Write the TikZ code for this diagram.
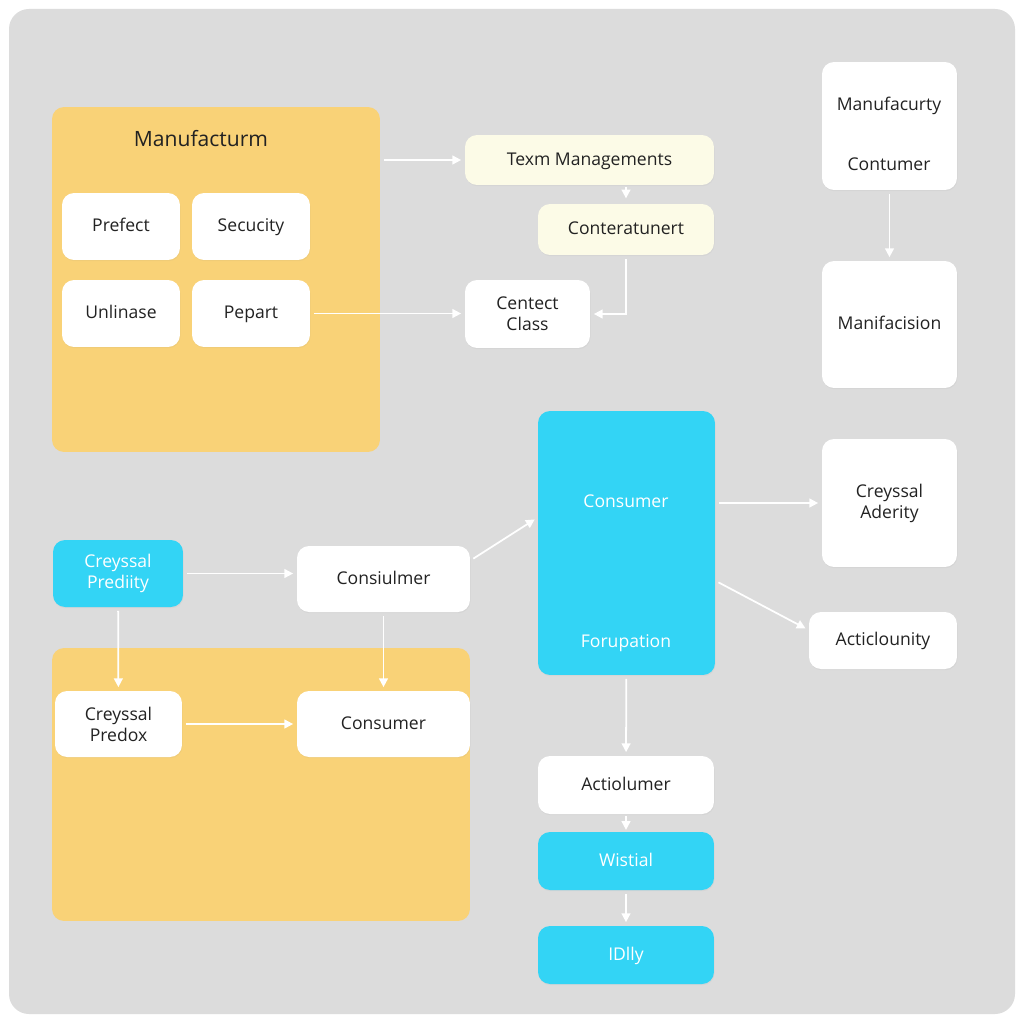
\documentclass[tikz,border=0pt]{standalone}
\usepackage{fontspec}
\setmainfont{Open Sans}
\usetikzlibrary{arrows.meta, shadows}
\definecolor{panelgrey}{HTML}{DCDCDC}
\definecolor{boxyellow}{HTML}{F9D277}
\definecolor{paleyellow}{HTML}{FCFBE7}
\definecolor{boxblue}{HTML}{33D4F5}
\definecolor{inkgrey}{HTML}{222222}
\tikzset{
  card/.style={fill=white, rounded corners=0.24cm, text=inkgrey, align=center,
    font=\fontsize{10}{12}\selectfont,
    drop shadow={opacity=0.07, shadow xshift=0.3pt, shadow yshift=-0.7pt}},
  palecard/.style={card, fill=paleyellow},
  bluecard/.style={card, fill=boxblue, text=white},
  oneline/.style={text height=1.6ex, text depth=0.45ex},
  tag/.style={oneline, font=\fontsize{10}{12}\selectfont},
  group/.style={fill=boxyellow, rounded corners=0.24cm},
  link/.style={draw=white, line width=1pt, -{Triangle[width=5pt,length=5pt]},
    shorten <=2pt, shorten >=2pt},
}

\begin{document}
\begin{tikzpicture}[x=0.02cm, y=-0.02cm]
      \useasboundingbox (0,0) rectangle (1024,1024);
      \fill[white] (0,0) rectangle (1024,1024);
      \fill[panelgrey, rounded corners=0.4cm] (9,9) rectangle (1015,1014);
      % yellow groups
      \node[group, minimum width=6.56cm, minimum height=6.9cm] (manu) at (216,279.5) {};
      \node[text=inkgrey, oneline, font=\fontsize{12}{14}\selectfont] (manutitle) at (201,141) {Manufacturm};
      \node[group, minimum width=8.36cm, minimum height=5.46cm] (lowgroup) at (261,784.5) {};
      % cards in the upper group
      \node[card, oneline, minimum width=2.36cm, minimum height=1.34cm] (prefect) at (121,226.5) {Prefect};
      \node[card, oneline, minimum width=2.36cm, minimum height=1.34cm] (secucity) at (251,226.5) {Secucity};
      \node[card, oneline, minimum width=2.36cm, minimum height=1.34cm] (unlinase) at (121,313.5) {Unlinase};
      \node[card, oneline, minimum width=2.36cm, minimum height=1.34cm] (pepart) at (251,313.5) {Pepart};
      % middle column
      \node[palecard, oneline, minimum width=4.98cm, minimum height=1.0cm] (texm) at (589.5,160) {Texm Managements};
      \node[palecard, oneline, minimum width=3.52cm, minimum height=1.02cm] (conter) at (626,229.5) {Conteratunert};
      \node[card, minimum width=2.5cm, minimum height=1.36cm] (centect) at (527.5,314) {Centect\\Class};
      \node[bluecard, minimum width=3.54cm, minimum height=5.28cm] (cblue) at (626.5,543) {};
      \node[tag, text=white] (cbluetop) at (626,502) {Consumer};
      \node[tag, text=white] (cbluebot) at (626,642) {Forupation};
      \node[card, oneline, minimum width=3.52cm, minimum height=1.16cm] (actiol) at (626,785) {Actiolumer};
      \node[bluecard, oneline, minimum width=3.52cm, minimum height=1.16cm] (wistial) at (626,861) {Wistial};
      \node[bluecard, oneline, minimum width=3.52cm, minimum height=1.16cm] (idlly) at (626,955) {IDlly};
      % right column
      \node[card, minimum width=2.7cm, minimum height=2.56cm] (mcont) at (889.5,126) {};
      \node[tag, text=inkgrey] (mconttop) at (889,105) {Manufacurty};
      \node[tag, text=inkgrey] (mcontbot) at (889,165) {Contumer};
      \node[card, oneline, minimum width=2.7cm, minimum height=2.54cm] (manif) at (889.5,324.5) {Manifacision};
      \node[card, minimum width=2.7cm, minimum height=2.56cm] (aderity) at (889.5,503) {Creyssal\\Aderity};
      \node[card, oneline, minimum width=2.96cm, minimum height=1.14cm] (acticl) at (883,640.5) {Acticlounity};
      % lower left
      \node[bluecard, minimum width=2.6cm, minimum height=1.34cm] (predity) at (118,573.5) {Creyssal\\Prediity};
      \node[card, oneline, minimum width=3.46cm, minimum height=1.32cm] (consiul) at (383.5,579) {Consiulmer};
      \node[card, minimum width=2.54cm, minimum height=1.32cm] (predox) at (118.5,724) {Creyssal\\Predox};
      \node[card, oneline, minimum width=3.46cm, minimum height=1.32cm] (consumer) at (383.5,724) {Consumer};
      % horizontal lines
      \draw[link] (manu.east |- texm.west) -- (texm.west);
      \draw[link] (pepart.east) -- (centect.west |- pepart.east);
      \draw[link] (cblue.east |- aderity.west) -- (aderity.west);
      \draw[link] (predity.east) -- (predity.east -| consiul.west);
      \draw[link] (predox.east) -- (consumer.west);
      % vertical lines
      \draw[link, shorten <=1pt, shorten >=3pt] (texm.south -| conter.north) -- (conter.north);
      \draw[link] (conter.south) |- (centect.east);
      \draw[link] (mcont) -- (manif);
      \draw[link] (cblue) -- (actiol);
      \draw[link, shorten <=1pt, shorten >=1pt] (actiol) -- (wistial);
      \draw[link] (wistial) -- (idlly);
      \draw[link] (predity) -- (predox);
      \draw[link] (consiul) -- (consumer);
      % slanted lines
      \draw[link] (consiul.12) -- (cblue.164);
      \draw[link] (cblue.-23) -- (acticl.172);
    \end{tikzpicture}
\end{document}
